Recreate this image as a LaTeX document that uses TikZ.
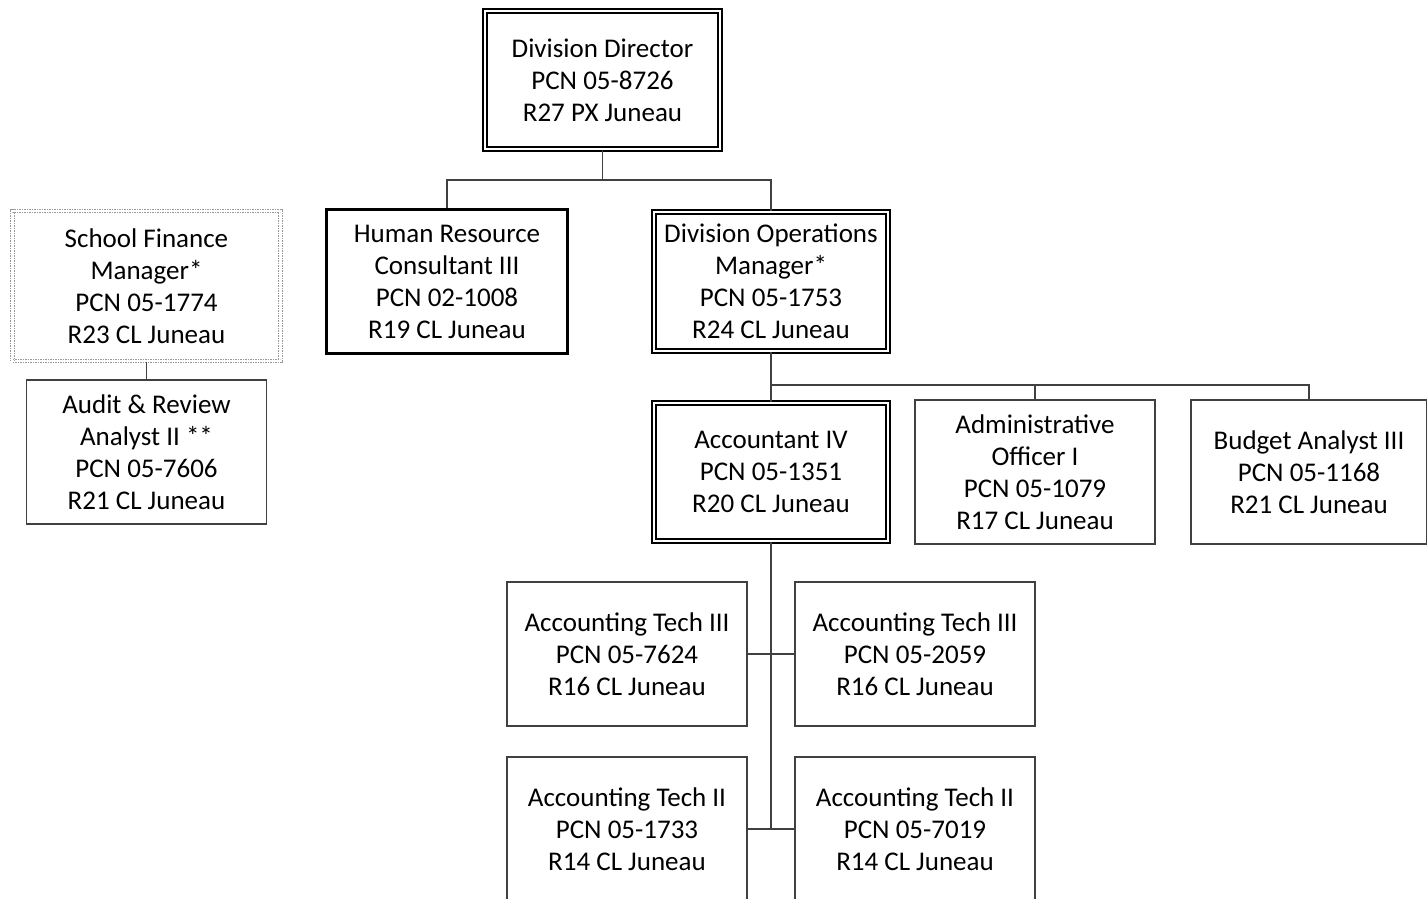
\documentclass[tikz,border=0pt]{standalone}
\usepackage{fontspec}
\setmainfont{Carlito}
\definecolor{linegray}{HTML}{404040}
\tikzset{
  box/.style={draw=linegray, line width=1.5pt, fill=white, align=center,
    minimum width=240pt, minimum height=144pt, inner sep=0pt,
    font=\fontsize{27}{32}\selectfont},
  boldbox/.style={box, draw=black, line width=2.6pt},
  doublebox/.style={box, draw=black, double, line width=2.2pt, double distance=2.4pt},
  dotbox/.style={box, draw=gray!80, densely dotted, double, line width=1.2pt, double distance=2.4pt},
  link/.style={draw=linegray, line width=1.5pt}
}
\begin{document}
\begin{tikzpicture}[x=1pt, y=-1pt]
\useasboundingbox (0,0) rectangle (1427,899);
\begin{scope}
\clip (0,0) rectangle (1427,899);
\node[doublebox, minimum width=235pt, minimum height=138pt] (dir) at (602.5,80) {Division Director\\PCN 05-8726\\R27 PX Juneau};
\node[boldbox, minimum width=241pt] (hr) at (447,281.5) {Human Resource\\Consultant III\\PCN 02-1008\\R19 CL Juneau};
\node[doublebox, minimum width=234pt, minimum height=139pt] (dom) at (771,281.5) {Division Operations\\Manager*\\PCN 05-1753\\R24 CL Juneau};
\node[dotbox, minimum width=268pt, minimum height=150pt] (sfm) at (146.5,286) {School Finance\\Manager*\\PCN 05-1774\\R23 CL Juneau};
\node[box] (audit) at (146.5,452) {Audit \& Review\\Analyst II **\\PCN 05-7606\\R21 CL Juneau};
\node[doublebox, minimum width=234pt, minimum height=138pt] (acc4) at (771,472) {Accountant IV\\PCN 05-1351\\R20 CL Juneau};
\node[box] (admin) at (1035,472) {Administrative\\Officer I\\PCN 05-1079\\R17 CL Juneau};
\node[box, minimum width=236pt] (budget) at (1309,472) {Budget Analyst III\\PCN 05-1168\\R21 CL Juneau};
\node[box] (at3l) at (627,654) {Accounting Tech III\\PCN 05-7624\\R16 CL Juneau};
\node[box] (at3r) at (915,654) {Accounting Tech III\\PCN 05-2059\\R16 CL Juneau};
\node[box] (at2l) at (627,829) {Accounting Tech II\\PCN 05-1733\\R14 CL Juneau};
\node[box] (at2r) at (915,829) {Accounting Tech II\\PCN 05-7019\\R14 CL Juneau};
\end{scope}
% connectors
\coordinate (j1) at (602.5,180);
\coordinate (j2) at (771,385);
\draw[link] (dir.south) -- (j1);
\draw[link] (hr.north) |- (j1) -| (dom.north);
\draw[link] (sfm.south) -- (audit.north);
\draw[link] (dom.south) -- (acc4.north);
\draw[link] (j2) -| (admin.north);
\draw[link] (j2) -| (budget.north);
\draw[link] (acc4.south) -- (acc4.south |- at2l.east);
\draw[link] (at3l.east) -- (at3r.west);
\draw[link] (at2l.east) -- (at2r.west);
\end{tikzpicture}
\end{document}
